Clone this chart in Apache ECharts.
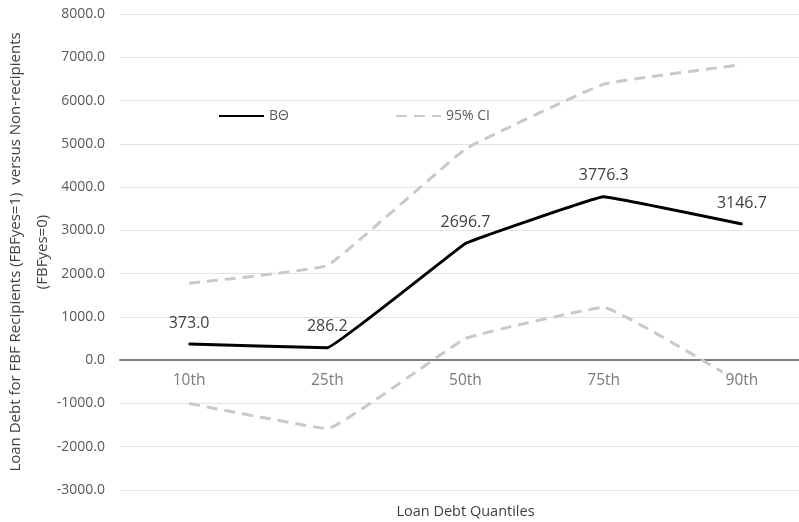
<!DOCTYPE html>
<html><head><meta charset="utf-8">
<script src="https://cdn.jsdelivr.net/npm/echarts@6/dist/echarts.min.js"></script>
<style>html,body{margin:0;padding:0;background:#fff}#c{width:799px;height:522px}</style>
</head><body><div id="c"></div>
<script>
const categories = ['10th','25th','50th','75th','90th'];
const estimate = [373.0, 286.2, 2696.7, 3776.3, 3146.7];
const ciUpper = [1780, 2190, 4880, 6380, 6830];
const ciLower = [-1000, -1580, 500, 1220, -540];
const yMin = -3000, yMax = 8000, yStep = 1000;

const chart = echarts.init(document.getElementById('c'));
const font = 'Open Sans, Noto Sans, sans-serif';
chart.setOption({
  animation: false,
  backgroundColor: '#fff',
  grid: {left: 120, right: -12, top: 14, bottom: 32, containLabel: false, outerBoundsMode: 'none'},
  legend: {
    data: ['B\u0398', '95% CI'],
    left: 213, top: 104,
    itemWidth: 45, itemHeight: 10, itemGap: 106,
    itemStyle: {opacity: 0},
    textStyle: {fontFamily: font, fontSize: 14, color: '#595959'}
  },
  xAxis: {
    type: 'category', data: categories, boundaryGap: true,
    axisLine: {show: true, onZero: true, lineStyle: {color: '#7f7f7f', width: 2}},
    axisTick: {show: false},
    axisLabel: {show: false},
    name: 'Loan Debt Quantiles', nameLocation: 'middle', nameGap: 14,
    nameTextStyle: {fontFamily: font, fontSize: 14.5, color: '#404040'}
  },
  yAxis: {
    type: 'value', min: yMin, max: yMax, interval: yStep,
    axisLine: {show: false}, axisTick: {show: false},
    splitLine: {lineStyle: {color: '#e3e3e3', width: 1}},
    axisLabel: {fontFamily: font, fontSize: 14, color: '#595959', margin: 15,
      formatter: v => v.toFixed(1)},
    name: 'Loan Debt for FBF Recipients (FBFyes=1)  versus Non-recipients\n(FBFyes=0)',
    nameLocation: 'middle', nameGap: 64, nameRotate: 90, nameMoveOverlap: false,
    nameTextStyle: {fontFamily: font, fontSize: 15, color: '#404040', lineHeight: 27, align: 'center'}
  },
  series: [
    {name: '95% CI', type: 'line', data: ciUpper, smooth: 0.08, symbol: 'none',
     lineStyle: {color: '#c9c9c9', width: 3, type: [11, 7]}, itemStyle: {color: '#c9c9c9'}},
    {name: '95% CI', type: 'line', data: ciLower, smooth: 0.08, symbol: 'none',
     lineStyle: {color: '#c9c9c9', width: 3, type: [11, 7]}, itemStyle: {color: '#c9c9c9'}},
    {name: 'B\u0398', type: 'line', smooth: 0.05, symbol: 'circle', symbolSize: 2, showSymbol: true,
     data: estimate,
     lineStyle: {color: '#000', width: 3}, itemStyle: {color: '#000'},
     label: {show: true, position: 'top', distance: 12, fontFamily: font, fontSize: 16, color: '#404040',
       formatter: p => p.value.toFixed(1)}},
    {name: 'axisLabels', type: 'scatter', symbol: 'circle', symbolSize: 0, silent: true, z: 5,
     data: categories.map(c => [c, 0]),
     label: {show: true, position: 'bottom', distance: 10, fontFamily: font, fontSize: 15.5, color: '#595959',
       backgroundColor: '#fff', padding: [2, 3, 2, 3],
       formatter: p => p.value[0]}}
  ]
});
</script></body></html>
